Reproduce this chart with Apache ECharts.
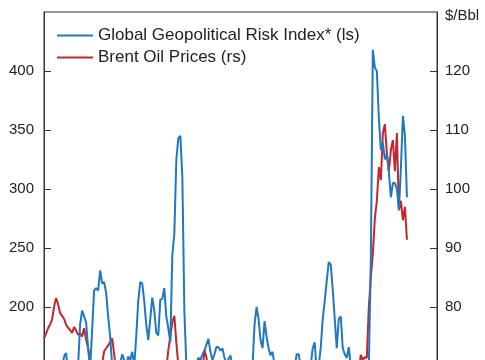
<!DOCTYPE html>
<html>
<head>
<meta charset="utf-8">
<script src="https://cdn.jsdelivr.net/npm/echarts@6/dist/echarts.min.js"></script>
<style>
html,body{margin:0;padding:0;overflow:hidden;background:#fff;width:485px;height:360px;}
#chart{width:485px;height:600px;}
</style>
</head>
<body>
<div id="chart"></div>
<script>
// Periods (weekly steps); labels fall below the visible crop
const periodCount = 197;
const categories = [];
for (let i = 0; i < periodCount; i++) categories.push('P' + (i + 1));

// Global Geopolitical Risk Index (left scale)
const gprIndex = [
130,120,125,118,112,125,135,128,140,148,
158,161,145,125,115,110,130,150,185,197,
192,187,165,148,180,214,216,214,231,220,
221,212,192,175,150,140,135,145,152,160,
155,150,158,155,162,150,175,205,221,220,
205,185,172,190,208,197,178,176,206,207,
216,192,182,170,244,262,325,343,345,310,
197,150,130,120,128,140,152,157,155,160,
163,168,173,162,155,160,166,166,163,165,
157,152,156,159,148,130,120,128,115,122,
135,120,110,125,150,185,200,190,172,165,
188,175,165,159,162,150,135,125,118,130,
122,135,128,140,135,148,160,160,150,130,
120,128,140,150,165,170,145,150,165,190,
205,222,238,236,215,190,165,190,192,165,
160,157,166,150,130,118,125,115,128,120,
130,140,150,240,418,403,400,360,333,339,
325,330,314,293,305,305,300,282,318,362,
345,293
];

// Brent oil price, $/Bbl (right scale)
const brentPrice = [
74.7,75.5,76.4,77,77.8,80,81.5,80.5,79,78.5,
78,77,76.5,76.1,75.6,76.6,76,75.3,75.5,75,
76.4,74.5,73,71,69,67,66,67,68.5,70.5,
72.5,73,73.5,74,74.7,72,69,66,64,63,
62,64,63,61,60,62,63,64,62,61,
63,64,65,63,64,66,65,64,66,67,
68,69.5,72.7,75,77.5,78.5,74,70,66,63,
64,62,60,58,57,59,61,63,66,69,
72.7,71.5,69,67,66,64,65,63,62,60,
58,57,59,61,60,58,56,55,57,59,
60,62,61,59,58,60,62,63,62,64,
65,63,62,60,59,61,62,63,65,64,
62,61,63,64,62,60,61,63,64,65,
66,64,63,65,66,67,65,64,66,67,
68,66,65,67,68,67,66,68,69,68,
67,68,69,68,69,69.5,68,69.5,71.9,71,
71.5,71.4,80,85,89,95,98,103.7,101.5,109.5,
111,106,103,106.6,108.3,103,109.5,96.4,98,94.7,
97,91.4
];

const seriesNames = ['Global Geopolitical Risk Index* (ls)', 'Brent Oil Prices (rs)'];

const chart = echarts.init(document.getElementById('chart'), null, {renderer: 'canvas'});
const axisColor = '#333';
const fontFamily = '"Liberation Sans", Arial, sans-serif';
chart.setOption({
  animation: false,
  textStyle: {fontFamily: fontFamily},
  grid: {left: 44, right: 48, top: 12, bottom: 116, show: true, borderColor: axisColor, borderWidth: 1, backgroundColor: 'transparent'},
  legend: {
    data: seriesNames,
    orient: 'vertical',
    left: 52, top: 22,
    icon: 'rect', itemWidth: 36, itemHeight: 2, itemGap: 5,
    textStyle: {fontSize: 17, color: '#222', fontFamily: fontFamily, lineHeight: 17}
  },
  graphic: [{type: 'text', left: 445, top: 8, style: {text: '$/Bbl', fontSize: 15, fill: '#222', fontFamily: fontFamily}}],
  xAxis: {
    type: 'category', data: categories, boundaryGap: false,
    axisLine: {show: true, lineStyle: {color: axisColor}},
    axisTick: {show: false}, axisLabel: {show: false}, splitLine: {show: false}
  },
  yAxis: [
    {type: 'value', position: 'left', min: 50, max: 450, interval: 50,
     axisLine: {show: true, lineStyle: {color: axisColor}},
     axisTick: {show: true, inside: true, length: 7, lineStyle: {color: axisColor}},
     axisLabel: {fontSize: 15, color: '#222', margin: 10, showMaxLabel: false, fontFamily: fontFamily},
     splitLine: {show: false}},
    {type: 'value', position: 'right', min: 50, max: 130, interval: 10,
     axisLine: {show: true, lineStyle: {color: axisColor}},
     axisTick: {show: true, inside: true, length: 7, lineStyle: {color: axisColor}},
     axisLabel: {fontSize: 15, color: '#222', margin: 8, showMaxLabel: false, fontFamily: fontFamily},
     splitLine: {show: false}}
  ],
  series: [
    {name: seriesNames[0], type: 'line', yAxisIndex: 0, data: gprIndex, showSymbol: false, symbol: 'none',
     lineStyle: {color: '#1f78c1', width: 2}, itemStyle: {color: '#1f78c1'}, z: 3},
    {name: seriesNames[1], type: 'line', yAxisIndex: 1, data: brentPrice, showSymbol: false, symbol: 'none',
     lineStyle: {color: '#c1272d', width: 2}, itemStyle: {color: '#c1272d'}, z: 2}
  ]
});
</script>
</body>
</html>
